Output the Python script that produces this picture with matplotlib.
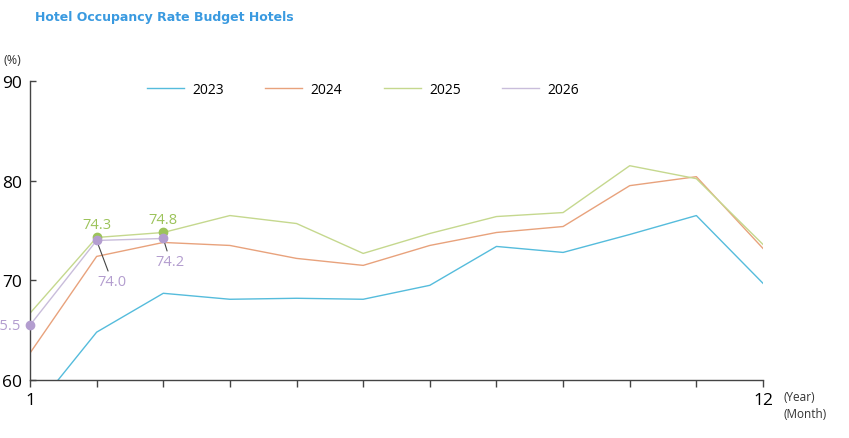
import numpy as np
import matplotlib
matplotlib.use("Agg")
import matplotlib.pyplot as plt

plt.rcParams['font.family'] = ['Open Sans', 'DejaVu Sans']

### datos
meses = np.arange(1, 13)
occ_2023 = [56.5, 64.8, 68.7, 68.1, 68.2, 68.1, 69.5, 73.4, 72.8, 74.6, 76.5, 69.7]
occ_2024 = [62.7, 72.4, 73.8, 73.5, 72.2, 71.5, 73.5, 74.8, 75.4, 79.5, 80.4, 73.2]
occ_2025 = [66.7, 74.3, 74.8, 76.5, 75.7, 72.7, 74.7, 76.4, 76.8, 81.5, 80.2, 73.6]
occ_2026 = [65.5, 74.0, 74.2]
anios = ['2023', '2024', '2025', '2026']
etiquetas_x = ['1'] + [''] * 10 + ['12']

colores = ['#55bcdc', '#e8a27c', '#c5d88e', '#c9bddb']
verde_txt = '#9cc35a'
morado_txt = '#b39dcf'

fig = plt.figure(figsize=(8.49, 4.39), dpi=100)
ax = fig.add_axes([30/849, 1-381/439, (763-30)/849, (381-82)/439])

series = [occ_2023, occ_2024, occ_2025, occ_2026]
for anio, datos, c in zip(anios, series, colores):
    ax.plot(meses[:len(datos)], datos, color=c, lw=1.0, label=anio)

# puntos marcados
ax.plot(meses[1:3], occ_2025[1:3], 'o', color=verde_txt, ms=6, clip_on=False, zorder=5)
ax.plot(meses[:3], occ_2026, 'o', color=morado_txt, ms=6, clip_on=False, zorder=5)

# etiquetas de valores
for i in [1, 2]:
    ax.annotate(f"{occ_2025[i]:.1f}", (meses[i], occ_2025[i]), xytext=(0, 4),
                textcoords='offset points', ha='center', va='bottom',
                color=verde_txt, fontsize=10.5)
ax.annotate(f"{occ_2026[0]:.1f}", (meses[0], occ_2026[0]), xytext=(-7, 0),
            textcoords='offset points', ha='right', va='center',
            color=morado_txt, fontsize=10.5, annotation_clip=False)
ax.annotate(f"{occ_2026[1]:.1f}", (meses[1], occ_2026[1]), xytext=(11, -24),
            textcoords='offset points', ha='center', va='top',
            color=morado_txt, fontsize=10.5,
            arrowprops=dict(arrowstyle='-', color='#444444', lw=0.8, shrinkA=0, shrinkB=2))
ax.annotate(f"{occ_2026[2]:.1f}", (meses[2], occ_2026[2]), xytext=(5, -11),
            textcoords='offset points', ha='center', va='top',
            color=morado_txt, fontsize=10.5,
            arrowprops=dict(arrowstyle='-', color='#444444', lw=0.8, shrinkA=0, shrinkB=2))

# ejes
ax.set_xlim(1, 12)
ax.set_ylim(60, 90)
ax.set_xticks(meses)
ax.set_xticklabels(etiquetas_x)
ax.set_yticks([60, 70, 80, 90])
ax.spines['top'].set_visible(False)
ax.spines['right'].set_visible(False)
for s in ['left', 'bottom']:
    ax.spines[s].set_color('#444444')
    ax.spines[s].set_linewidth(1.0)
ax.tick_params(axis='x', direction='out', length=5, width=1, color='#444444',
               labelsize=12.5, pad=4)
ax.tick_params(axis='y', direction='in', length=4, width=1, color='#444444',
               labelsize=12.5, pad=6)

ax.legend(ncol=4, frameon=False, loc='center left',
          bbox_to_anchor=(147/849, 1-90/439), bbox_transform=fig.transFigure,
          borderaxespad=0, borderpad=0, handlelength=2.65, handletextpad=0.6,
          columnspacing=3.0, fontsize=10)

fig.text(35/849, 1-17/439, 'Hotel Occupancy Rate Budget Hotels', color='#3a9ae0',
         fontsize=9, fontweight='bold', family='DejaVu Sans', va='center')
fig.text(4/849, 1-60/439, '(%)', fontsize=9, color='#333333', va='center')
fig.text(784/849, 1-398/439, '(Year)', fontsize=8.5, color='#333333', va='center')
fig.text(784/849, 1-415/439, '(Month)', fontsize=8.5, color='#333333', va='center')

fig.savefig('out.png', dpi=100)
